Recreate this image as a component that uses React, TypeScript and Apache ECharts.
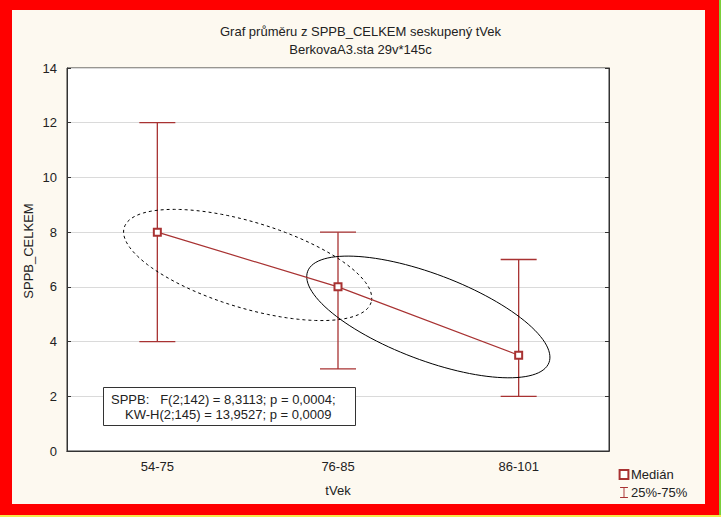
import React, { useEffect, useRef } from "react";
import * as echarts from "echarts";

const categories = ["54-75", "76-85", "86-101"];
const medians = [8, 6, 3.5];
const q25 = [4, 3, 2];
const q75 = [12, 8, 7];
// ellipses: [left category index, centre value]
const ellipseDashed = [[0, 6.8]];
const ellipseSolid = [[1, 4.9]];
const statLines = ["SPPB:   F(2;142) = 8,3113; p = 0,0004;", "KW-H(2;145) = 13,9527; p = 0,0009"];

const FONT = "'Liberation Sans', Arial, sans-serif";
const RED = "#a83232";
const TXT = "#222";

function ellipseRender(dashed: boolean) {
  return (params: any, api: any) => {
    const i = api.value(0);
    const cv = api.value(1);
    const pa = api.coord([i, medians[i]]);
    const pb = api.coord([i + 1, medians[i + 1]]);
    const ca = api.coord([i, cv]);
    const cb = api.coord([i + 1, cv]);
    const cx = (ca[0] + cb[0]) / 2;
    const cy = ca[1];
    const ang = Math.atan2(pb[1] - pa[1], pb[0] - pa[0]);
    const a = 129;
    const b = 43;
    const pts: number[][] = [];
    for (let k = 0; k < 120; k++) {
      const t = (k / 120) * Math.PI * 2;
      const x = a * Math.cos(t);
      const y = b * Math.sin(t);
      pts.push([cx + x * Math.cos(ang) - y * Math.sin(ang), cy + x * Math.sin(ang) + y * Math.cos(ang)]);
    }
    return {
      type: "polygon",
      shape: { points: pts },
      style: { fill: "none", stroke: "#000", lineWidth: 1, lineDash: dashed ? [3, 3] : null },
    };
  };
}

export default function App() {
  const ref = useRef<HTMLDivElement>(null);
  useEffect(() => {
    const chart = echarts.init(ref.current!, null, { renderer: "svg" });
    const errData = categories.map((_, i) => [i, q25[i], q75[i]]);
    chart.setOption({
      animation: false,
      backgroundColor: "#ff0000",
      textStyle: { fontFamily: FONT },
      title: {
        text: "Graf průměru z SPPB_CELKEM seskupený tVek",
        subtext: "BerkovaA3.sta 29v*145c",
        left: "center",
        top: 19,
        itemGap: 3,
        textStyle: { fontFamily: FONT, fontSize: 13, fontWeight: "normal", color: TXT, lineHeight: 15 },
        subtextStyle: { fontFamily: FONT, fontSize: 13, color: TXT, lineHeight: 15 },
      },
      graphic: [
        { type: "rect", z: -10, shape: { x: 12, y: 10, width: 693, height: 494 }, style: { fill: "#fdf9f0" } },
        { type: "rect", z: -10, shape: { x: 719, y: 0, width: 2, height: 517 }, style: { fill: "#7ccf3a" } },
        { type: "rect", z: -10, shape: { x: 0, y: 515, width: 721, height: 2 }, style: { fill: "#f5e84a" } },
        {
          type: "text",
          x: 28,
          y: 251,
          rotation: Math.PI / 2,
          style: { text: "SPPB_CELKEM", font: `13px ${FONT}`, fill: TXT, align: "center", verticalAlign: "middle" },
        },
        {
          type: "rect",
          z: 50,
          shape: { x: 103.5, y: 387.5, width: 252, height: 38 },
          style: { fill: "#fff", stroke: "#333", lineWidth: 1 },
        },
        {
          type: "text",
          z: 51,
          x: 111,
          y: 399,
          style: { text: statLines[0], font: `13px ${FONT}`, fill: TXT, verticalAlign: "middle" },
        },
        {
          type: "text",
          z: 51,
          x: 125,
          y: 414,
          style: { text: statLines[1], font: `13px ${FONT}`, fill: TXT, verticalAlign: "middle" },
        },
      ],
      legend: {
        data: [
          { name: "Medián" },
          { name: "25%-75%", icon: "path://M0,0H10V1.2H5.6V12.8H10V14H0V12.8H4.4V1.2H0Z" },
        ],
        orient: "vertical",
        left: 613,
        top: 463,
        itemWidth: 10,
        itemHeight: 11,
        itemGap: 5,
        textStyle: { fontFamily: FONT, fontSize: 13, color: TXT, padding: [0, 0, 0, -3] },
      },
      grid: {
        left: 67,
        top: 68,
        right: 112,
        bottom: 66,
        show: true,
        backgroundColor: "#fff",
        borderColor: "#333",
        borderWidth: 1,
      },
      xAxis: [
        {
          type: "category",
          data: categories,
          boundaryGap: true,
          name: "tVek",
          nameLocation: "middle",
          nameGap: 33,
          nameTextStyle: { fontFamily: FONT, fontSize: 13, color: TXT },
          axisLine: { lineStyle: { color: "#333" } },
          axisTick: { inside: true, alignWithLabel: true, length: 4, lineStyle: { color: "#333" } },
          axisLabel: { fontFamily: FONT, fontSize: 13, color: TXT, margin: 9 },
          splitLine: { show: false },
        },
        {
          type: "category",
          data: categories,
          position: "top",
          boundaryGap: true,
          axisLine: { lineStyle: { color: "#333" } },
          axisTick: { inside: true, alignWithLabel: true, length: 4, lineStyle: { color: "#333" } },
          axisLabel: { show: false },
        },
      ],
      yAxis: [
        {
          type: "value",
          min: 0,
          max: 14,
          interval: 2,
          axisLine: { show: true, lineStyle: { color: "#333" } },
          axisTick: { show: true, inside: true, length: 4, lineStyle: { color: "#333" } },
          axisLabel: { fontFamily: FONT, fontSize: 13, color: TXT, margin: 10 },
          splitLine: { show: true, lineStyle: { color: "#dadada", width: 1 } },
        },
        {
          type: "value",
          min: 0,
          max: 14,
          interval: 2,
          position: "right",
          axisLine: { show: true, lineStyle: { color: "#333" } },
          axisTick: { show: true, inside: true, length: 4, lineStyle: { color: "#333" } },
          axisLabel: { show: false },
          splitLine: { show: false },
        },
      ],
      series: [
        {
          name: "25%-75%",
          type: "custom",
          color: RED,
          itemStyle: { color: RED },
          z: 3,
          renderItem: (params: any, api: any) => {
            const lo = api.coord([api.value(0), api.value(1)]);
            const hi = api.coord([api.value(0), api.value(2)]);
            const hw = 18;
            const st = { stroke: RED, lineWidth: 1.3 };
            return {
              type: "group",
              children: [
                { type: "line", shape: { x1: lo[0], y1: lo[1], x2: hi[0], y2: hi[1] }, style: st },
                { type: "line", shape: { x1: lo[0] - hw, y1: lo[1], x2: lo[0] + hw, y2: lo[1] }, style: st },
                { type: "line", shape: { x1: hi[0] - hw, y1: hi[1], x2: hi[0] + hw, y2: hi[1] }, style: st },
              ],
            };
          },
          encode: { x: 0, y: [1, 2] },
          data: errData,
        },
        {
          name: "ellipse-dashed",
          type: "custom",
          z: 4,
          renderItem: ellipseRender(true),
          encode: { x: 0, y: 1 },
          data: ellipseDashed,
          silent: true,
        },
        {
          name: "ellipse-solid",
          type: "custom",
          z: 4,
          renderItem: ellipseRender(false),
          encode: { x: 0, y: 1 },
          data: ellipseSolid,
          silent: true,
        },
        {
          name: "Medián",
          type: "line",
          data: medians,
          z: 5,
          color: RED,
          symbol: "emptyRect",
          symbolSize: 7,
          lineStyle: { color: RED, width: 1.2 },
          itemStyle: { color: RED, borderColor: RED, borderWidth: 1 },
        },
      ],
    });
    return () => chart.dispose();
  }, []);
  return <div ref={ref} style={{ width: 721, height: 517, position: "absolute", left: 0, top: 0 }} />;
}
